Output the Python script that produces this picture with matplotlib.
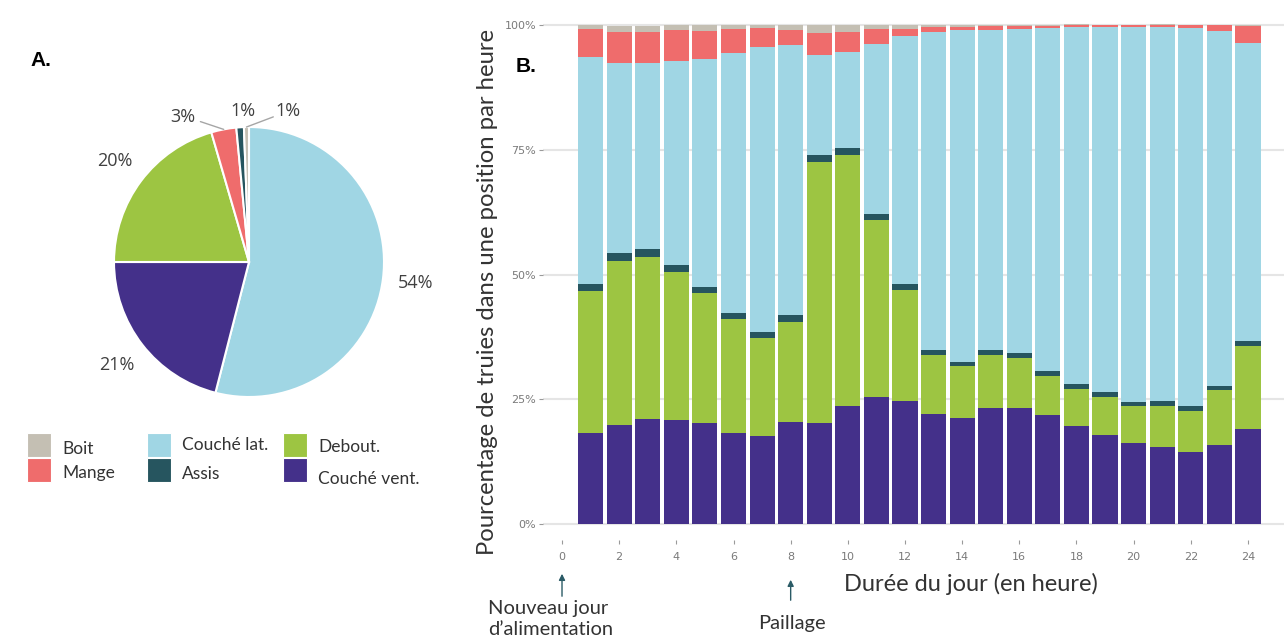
import matplotlib
matplotlib.use('Agg')

import matplotlib.pyplot as plt
from matplotlib.patches import Rectangle
import numpy as np

# ---- data ----
# pie (A.) : share of time per position
pie_labels = ['Couché lat.', 'Couché vent.', 'Debout.', 'Mange', 'Assis', 'Boit']
pie_values = [54, 21, 20.5, 3, 0.9, 0.6]
pie_text = ['54%', '21%', '20%', '3%', '1%', '1%']

# bars (B.) : hour of day 1..24, % of sows per position (bottom -> top)
hours = np.arange(1, 25)
couche_vent = [18.2, 19.8, 21.1, 20.9, 20.2, 18.2, 17.7, 20.5, 20.2, 23.7, 25.5, 24.6,
               22.0, 21.3, 23.3, 23.3, 21.8, 19.7, 17.8, 16.2, 15.5, 14.4, 15.8, 19.1]
debout = [28.6, 33.0, 32.5, 29.6, 26.1, 22.9, 19.7, 20.1, 52.4, 50.4, 35.4, 22.4,
          12.0, 10.4, 10.7, 10.0, 7.8, 7.4, 7.7, 7.5, 8.2, 8.3, 11.0, 16.6]
assis = [1.3, 1.5, 1.5, 1.5, 1.3, 1.2, 1.1, 1.3, 1.5, 1.3, 1.3, 1.1,
         1.0, 0.9, 1.0, 1.0, 1.0, 1.0, 0.9, 0.7, 1.0, 1.0, 0.9, 1.1]
couche_lat = [45.5, 38.2, 37.4, 40.8, 45.7, 52.1, 57.2, 54.2, 19.9, 19.2, 34.0, 49.7,
              63.7, 66.5, 64.1, 65.0, 68.8, 71.6, 73.2, 75.2, 75.0, 75.8, 71.1, 59.7]
mange = [5.7, 6.2, 6.2, 6.2, 5.6, 4.8, 3.7, 3.0, 4.5, 4.0, 3.0, 1.5,
         0.9, 0.5, 0.8, 0.6, 0.5, 0.4, 0.4, 0.4, 0.4, 0.5, 1.2, 3.4]
boit = [0.7, 1.2, 1.2, 1.1, 1.1, 0.9, 0.7, 0.9, 1.6, 1.4, 0.9, 0.7,
        0.4, 0.4, 0.1, 0.1, 0.1, 0.1, 0.1, 0.1, 0.1, 0.1, 0.1, 0.1]

colors = {'Couché vent.': '#44308a', 'Debout.': '#9dc542', 'Assis': '#26555f',
          'Couché lat.': '#a0d6e4', 'Mange': '#ef6c6c', 'Boit': '#c4bfb3'}

fig = plt.figure(figsize=(12.84, 6.39), dpi=100)
W, H = 1284., 639.
txt_col = '#333333'

# ---- A. pie ----
cx, cy, r = 249, 262, 135
axp = fig.add_axes([(cx - r) / W, (H - cy - r) / H, 2 * r / W, 2 * r / H])
wedges, _ = axp.pie(pie_values, colors=[colors[k] for k in pie_labels], startangle=90,
                    counterclock=False, wedgeprops=dict(edgecolor='white', linewidth=1.5))
axp.set_xlim(-1, 1)
axp.set_ylim(-1, 1)
axp.set_aspect('equal')

pfont = dict(family='Open Sans', fontsize=13, color='#404040', ha='center', va='center')
for i, w in enumerate(wedges):
    mid = np.deg2rad((w.theta1 + w.theta2) / 2)
    if i < 3:
        axp.text(1.24 * np.cos(mid), 1.24 * np.sin(mid), pie_text[i], **pfont)
# small slices
axp.text(-0.49, 1.075, pie_text[3], **pfont)
axp.text(-0.045, 1.12, pie_text[4], **pfont)
axp.text(0.29, 1.12, pie_text[5], **pfont)
for i, (tx, ty) in [(3, (-0.36, 1.04)), (5, (0.18, 1.075))]:
    w = wedges[i]
    mid = np.deg2rad((w.theta1 + w.theta2) / 2)
    axp.annotate('', xy=(np.cos(mid), np.sin(mid)), xytext=(tx, ty),
                 arrowprops=dict(arrowstyle='-', color='#a6a6a6', lw=1, shrinkA=0, shrinkB=0))

fig.text(30 / W, 1 - 60 / H, 'A.', fontsize=15, fontweight='bold', family='Liberation Sans',
         va='center')

# legend, drawn by hand (3 columns x 2 rows)
leg_items = [('Boit', 27, 433, 449), ('Mange', 27, 458, 473),
             ('Couché lat.', 147, 433, 445), ('Assis', 147, 458, 474),
             ('Debout.', 283, 433, 447), ('Couché vent.', 283, 458, 479)]
for name, x0, y0, ytxt in leg_items:
    fig.patches.append(Rectangle((x0 / W, 1 - (y0 + 24) / H), 24 / W, 24 / H,
                                 transform=fig.transFigure, facecolor=colors[name],
                                 edgecolor='white', linewidth=0.8))
    fig.text((x0 + 35) / W, 1 - ytxt / H, name, family='Lato', fontsize=12.5,
             color=txt_col, va='center')

# ---- B. stacked bars ----
ax = fig.add_axes([543 / W, (H - 544) / H, (1284 - 543) / W, (544 - 20) / H])
series = [('Couché vent.', couche_vent), ('Debout.', debout), ('Assis', assis),
          ('Couché lat.', couche_lat), ('Mange', mange), ('Boit', boit)]
bottom = np.zeros(len(hours))
for name, vals in series:
    ax.bar(hours, vals, bottom=bottom, width=0.88, color=colors[name], linewidth=0)
    bottom += np.array(vals)

ax.set_xlim(-0.665, 25.26)
ax.set_ylim(-4.0, 101.1)
ax.set_yticks([0, 25, 50, 75, 100])
ax.set_yticklabels(['0%', '25%', '50%', '75%', '100%'])
ax.set_xticks(np.arange(0, 25, 2))
ax.grid(axis='y', color='#e5e5e5', linewidth=1.5)
ax.set_axisbelow(True)
for s in ax.spines.values():
    s.set_visible(False)
ax.tick_params(axis='y', length=3, width=0.8, color='#9a9a9a', pad=2)
ax.tick_params(axis='x', length=3, width=0.8, color='#9a9a9a', pad=6, direction='in')
for lab in ax.get_xticklabels() + ax.get_yticklabels():
    lab.set_family(['Liberation Sans Narrow', 'DejaVu Sans'])
    lab.set_fontsize(8)
    lab.set_color('#7a7a7a')

ax.set_ylabel('Pourcentage de truies dans une position par heure', family='Lato',
              fontsize=17.2, color=txt_col)
ax.yaxis.set_label_coords((498 - 543) / 741., (544 - 292) / 524.)
fig.text(971 / W, 1 - 584 / H, 'Durée du jour (en heure)', family='Lato',
         fontsize=17, color=txt_col, ha='center', va='center')
fig.text(516 / W, 1 - 66 / H, 'B.', fontsize=15, fontweight='bold', family='Liberation Sans',
         va='center')

# annotations below the axis
arrow_kw = dict(arrowstyle='-|>', color='#2b5b66', lw=1, mutation_scale=9)
ax.annotate('', xy=(0, 1 - 571 / H), xytext=(0, 1 - 599 / H),
            xycoords=('data', 'figure fraction'), textcoords=('data', 'figure fraction'),
            arrowprops=arrow_kw)
ax.annotate('', xy=(8, 1 - 577 / H), xytext=(8, 1 - 603 / H),
            xycoords=('data', 'figure fraction'), textcoords=('data', 'figure fraction'),
            arrowprops=arrow_kw)
fig.text(488 / W, 1 - 619 / H, 'Nouveau jour\nd\u2019alimentation', family='Lato',
         fontsize=14.5, color=txt_col, ha='left', va='center', linespacing=1.22)
fig.text(792 / W, 1 - 623 / H, 'Paillage', family='Lato', fontsize=14.5,
         color=txt_col, ha='center', va='center')

plt.savefig('out.png', dpi=100)
plt.close()
